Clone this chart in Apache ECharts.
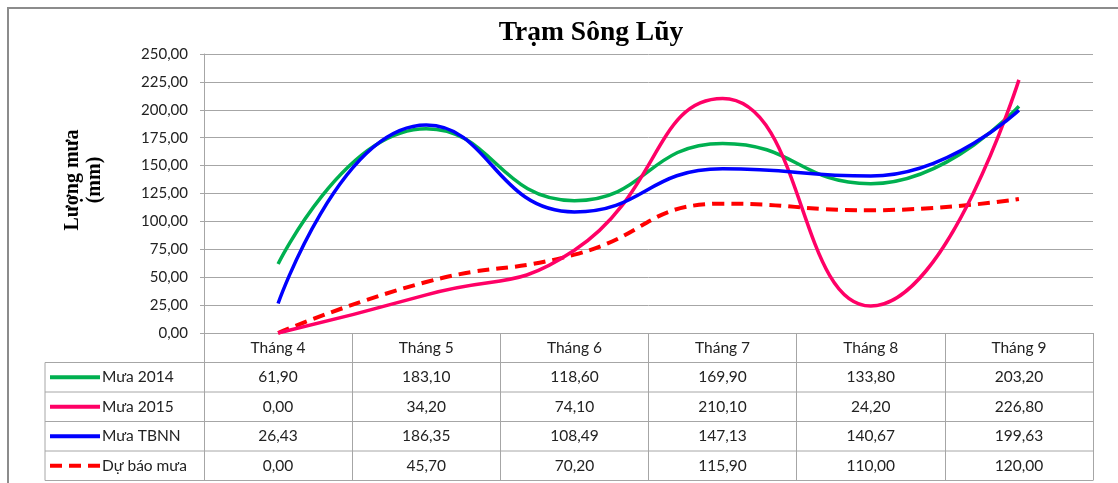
<!DOCTYPE html>
<html><head><meta charset="utf-8">
<script src="https://cdn.jsdelivr.net/npm/echarts@6/dist/echarts.min.js"></script>
<style>html,body{margin:0;padding:0;background:#fff}#c{width:1118px;height:483px}</style>
</head><body><div id="c"></div>
<script>
const categories = ['Tháng 4','Tháng 5','Tháng 6','Tháng 7','Tháng 8','Tháng 9'];
const mua2014 = [61.90,183.10,118.60,169.90,133.80,203.20];
const mua2015 = [0.00,34.20,74.10,210.10,24.20,226.80];
const muaTBNN = [26.43,186.35,108.49,147.13,140.67,199.63];
const duBao = [0.00,45.70,70.20,115.90,110.00,120.00];
const seriesNames = ['Mưa 2014','Mưa 2015','Mưa TBNN','Dự báo mưa'];
const seriesData = [mua2014, mua2015, muaTBNN, duBao];
const yTicks = {min:0, max:250, interval:25};

const fmt = v => v.toFixed(2).replace('.', ',');
const GL = 204, GR = 1093, GT = 54, GB = 333, ROW = 29.5, LEGX = 45;
const font = 'Lato';
const gridColor = '#a6a6a6';

const chart = echarts.init(document.getElementById('c'));
const colors = ['#00B050','#FF0066','#0000FF','#FF0000'];
const solidIcon = 'path://M0,0H50V4H0Z';
const dashIcon = 'path://M0,0H12V4H0Z M19,0H31V4H19Z M38,0H50V4H38Z';

const graphics = [
  {type:'rect', shape:{x:8,y:8,width:1300,height:700}, style:{fill:'none',stroke:'#8c8c8c',lineWidth:2}, silent:true},
  {type:'line', shape:{x1:LEGX,y1:GB+ROW,x2:LEGX,y2:GB+5*ROW}, style:{stroke:gridColor,lineWidth:1}},
  {type:'text', x:84, y:180, rotation:Math.PI/2, style:{text:'Lượng mưa\n(mm)', fontFamily:'Liberation Serif', fontWeight:'bold', fontSize:20, fill:'#000', align:'center', verticalAlign:'middle', lineHeight:22}}
];
for (let k=1;k<=5;k++){
  graphics.push({type:'line', shape:{x1:LEGX,y1:GB+k*ROW,x2:GR,y2:GB+k*ROW}, style:{stroke:gridColor,lineWidth:1}});
}

const legends = seriesNames.map((n,i)=>({
  left:50, top:GB+ROW*(i+1.5)-10, padding:0, itemWidth:50, itemHeight:4, itemGap:0,
  textStyle:{fontFamily:font, fontSize:15.5, color:'#222', lineHeight:20, padding:[0,0,0,-3]},
  data:[{name:n, icon:i===3?dashIcon:solidIcon, itemStyle:{color:colors[i]}}], selectedMode:false
}));

chart.setOption({
  animation:false,
  title:{text:'Trạm Sông Lũy', left:586, top:14, textAlign:'center', textStyle:{fontFamily:'Liberation Serif', fontWeight:'bold', fontSize:27.5, color:'#000'}},
  grid:{left:GL, right:1118-GR, top:GT, bottom:483-GB},
  legend:legends,
  xAxis:{type:'category', data:categories, boundaryGap:true,
    axisLine:{lineStyle:{color:gridColor,width:1}},
    axisTick:{show:true, interval:0, length:ROW*5, lineStyle:{color:gridColor}},
    axisLabel:{interval:0, margin:0, fontFamily:font, fontSize:15.5, color:'#222', lineHeight:ROW,
      formatter:(v, i)=>[v].concat(seriesData.map(s=>fmt(s[i]))).join('\n')}},
  yAxis:{type:'value', min:yTicks.min, max:yTicks.max, interval:yTicks.interval,
    axisLine:{show:true, lineStyle:{color:gridColor}},
    axisTick:{show:true, length:4, lineStyle:{color:gridColor}},
    splitLine:{lineStyle:{color:gridColor}},
    axisLabel:{fontFamily:font, fontSize:15, color:'#222', margin:16, formatter:v=>fmt(v)}},
  graphic:graphics,
  series: seriesNames.map((n,i)=>({name:n, type:'line', data:seriesData[i], smooth:0.5, symbol:'none',
    lineStyle:{color:colors[i], width:i===3?4:3.5, type:i===3?[12,7]:'solid'}, itemStyle:{color:colors[i]}, z:i===3?1:2}))
});
</script></body></html>
